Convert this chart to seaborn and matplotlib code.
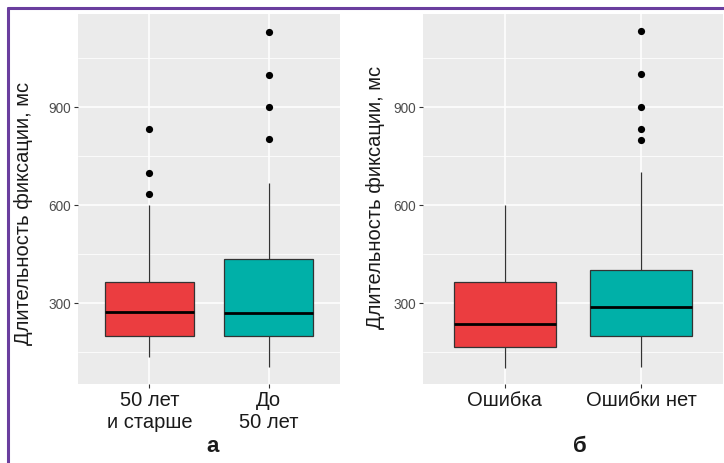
import numpy as np
import pandas as pd
import matplotlib.pyplot as plt
import seaborn as sns
from matplotlib.lines import Line2D
from matplotlib.ticker import FixedLocator

# panel "а": age groups
age_groups = ["50 лет\nи старше", "До\n50 лет"]
age_low = [134, 104]
age_q1 = [200, 200]
age_med = [271, 268]
age_q3 = [365, 434]
age_high = [600, 668]
age_outliers = [[634, 699, 833], [801, 900, 997, 1130]]

# panel "б": error / no error
err_groups = ["Ошибка", "Ошибки нет"]
err_low = [100, 105]
err_q1 = [166, 199]
err_med = [235, 287]
err_q3 = [365, 400]
err_high = [600, 700]
err_outliers = [[], [799, 832, 900, 1000, 1133]]

box_colors = ["#EB3D40", "#00B0A8"]
y_label = "Длительность фиксации, мс"

sns.set_theme(style="darkgrid", rc={
    "axes.facecolor": "#EBEBEB",
    "grid.color": "white",
    "figure.facecolor": "white",
})
plt.rcParams["font.family"] = ["Liberation Sans", "DejaVu Sans"]


def summary_frame(groups, low, q1, med, q3, high):
    rows = []
    for i, g in enumerate(groups):
        for v in (low[i], q1[i], med[i], q3[i], high[i]):
            rows.append({"group": g, "value": v})
    return pd.DataFrame(rows)


def outlier_frame(groups, outliers):
    rows = []
    for g, vals in zip(groups, outliers):
        for v in vals:
            rows.append({"group": g, "value": v})
    return pd.DataFrame(rows, columns=["group", "value"])


def draw_panel(ax, groups, low, q1, med, q3, high, outliers):
    df = summary_frame(groups, low, q1, med, q3, high)
    sns.boxplot(data=df, x="group", y="value", hue="group", order=groups,
                hue_order=groups, palette=box_colors, saturation=1, legend=False,
                whis=(0, 100), width=0.75, showcaps=False,
                linecolor="#333333", linewidth=0.9,
                medianprops={"color": "black", "linewidth": 2.0},
                ax=ax)
    out = outlier_frame(groups, outliers)
    sns.stripplot(data=out, x="group", y="value", order=groups,
                  jitter=False, color="black", size=5.2, ax=ax, zorder=5)
    ax.set_xlim(-0.6, 1.6)
    ax.set_ylim(52, 1185)
    ax.yaxis.set_major_locator(FixedLocator([300, 600, 900]))
    ax.yaxis.set_minor_locator(FixedLocator([150, 450, 750, 1050]))
    ax.grid(which="major", color="white", linewidth=1.1)
    ax.grid(which="minor", color="white", linewidth=0.55)
    ax.set_axisbelow(True)
    for s in ax.spines.values():
        s.set_visible(False)
    ax.tick_params(axis="y", which="major", length=3, width=0.8, color="#333333",
                   labelsize=9.8, labelcolor="#4D4D4D", pad=2, left=True)
    ax.tick_params(axis="y", which="minor", length=0)
    ax.tick_params(axis="x", length=3, width=0.8, color="#333333",
                   labelsize=14.5, labelcolor="#1A1A1A", pad=2, bottom=True)
    ax.set_xlabel("")
    ax.set_ylabel(y_label, fontsize=14.5, color="#1A1A1A")


fig = plt.figure(figsize=(7.24, 4.63), dpi=100)
ax1 = fig.add_axes([78 / 724, 1 - 384 / 463, 262 / 724, 370 / 463])
ax2 = fig.add_axes([423 / 724, 1 - 384 / 463, 300 / 724, 370 / 463])

draw_panel(ax1, age_groups, age_low, age_q1, age_med, age_q3, age_high, age_outliers)
draw_panel(ax2, err_groups, err_low, err_q1, err_med, err_q3, err_high, err_outliers)
ax1.yaxis.set_label_coords(-0.172, 0.46)
ax2.yaxis.set_label_coords(-0.127, 0.505)

fig.text(213 / 724, 1 - 447 / 463, "а", fontsize=16, fontweight="bold",
         ha="center", va="center", color="#1A1A1A")
fig.text(580 / 724, 1 - 447 / 463, "б", fontsize=16, fontweight="bold",
         ha="center", va="center", color="#1A1A1A")

# purple frame (left and top edges visible)
frame_color = "#6A3E9E"
fig.add_artist(Line2D([8 / 724, 8 / 724], [0, 1 - 8 / 463], color=frame_color,
                      linewidth=2.2, transform=fig.transFigure))
fig.add_artist(Line2D([8 / 724, 1], [1 - 8 / 463, 1 - 8 / 463], color=frame_color,
                      linewidth=2.2, transform=fig.transFigure))

fig.savefig("out.png", dpi=100)
